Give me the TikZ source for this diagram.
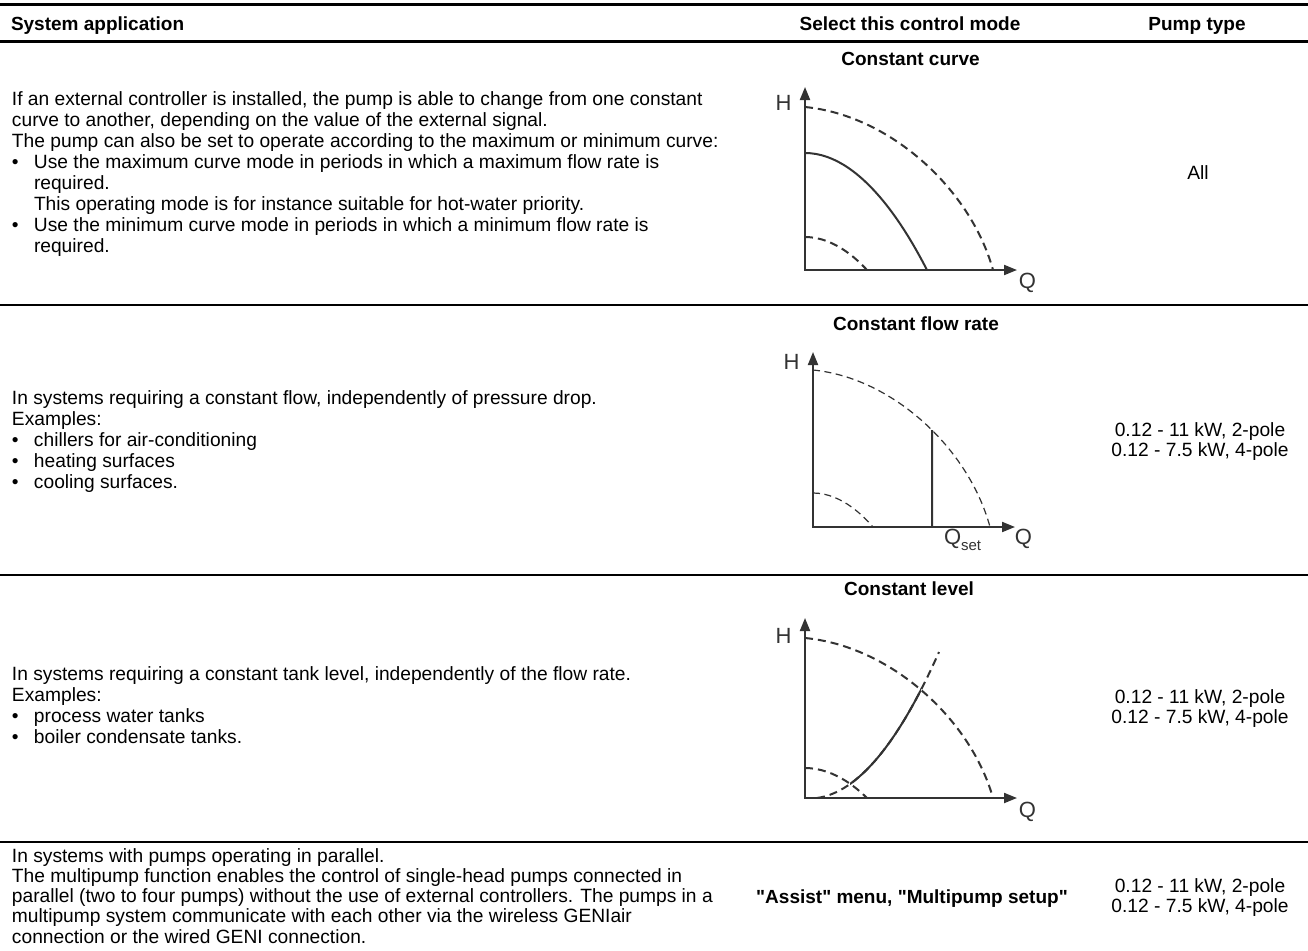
\documentclass[tikz,border=0pt]{standalone}
\usepackage{fontspec}
\setmainfont{Liberation Sans}[Ligatures=TeXOff]
\usetikzlibrary{arrows.meta,intersections,calc}
\definecolor{gline}{HTML}{333333}
\newcommand\rowline[1]{\hbox{#1}}
\newcommand\bulline[1]{\hbox{\makebox[22pt][l]{•}#1}}
\newcommand\indline[1]{\hbox{\hspace*{22pt}#1}}
\newcommand\twolines[2]{\vtop{\halign{\hfil##\hfil\cr #1\cr #2\cr}}}
\begin{document}
\begin{tikzpicture}[x=1pt,y=-1pt,
  every node/.style={inner sep=0pt,outer sep=0pt},
  body/.style={anchor=base west,font=\fontsize{19.2}{21}\selectfont},
  cbody/.style={anchor=base,font=\fontsize{19.2}{20}\selectfont},
  hdr/.style={anchor=base,font=\fontsize{19}{21}\selectfont\bfseries},
  axlbl/.style={anchor=base,text=gline,font=\fontsize{22}{22}\selectfont},
  rule/.style={line width=3pt,black},
  seprule/.style={line width=2.4pt,black},
  axis/.style={line width=2pt,gline,{Triangle[length=13pt,width=10pt]}-{Triangle[length=13pt,width=10pt]}},
  solidcurve/.style={line width=2pt,gline},
  dashthick/.style={line width=2pt,gline,dash pattern=on 8pt off 5pt},
  dashthin/.style={line width=1.2pt,gline,dash pattern=on 7pt off 4.5pt}]
\useasboundingbox[fill=white] (0,0) rectangle (1308,950);

% table rules
\draw[rule] (0,4.5) -- (1308,4.5);
\draw[rule] (0,42) -- (1308,42);
\draw[seprule] (0,305) -- (1308,305);
\draw[seprule] (0,575) -- (1308,575);
\draw[seprule] (0,842) -- (1308,842);

% header
\node[hdr,anchor=base west] (h1) at (11,31) {System application};
\node[hdr] (h2) at (910,31) {Select this control mode};
\node[hdr] (h3) at (1197,31) {Pump type};

% ---------- row 1 ----------
\node[body] (t1) at (12,105) {\vtop{%
\rowline{If an external controller is installed, the pump is able to change from one constant}
\rowline{curve to another, depending on the value of the external signal.}
\rowline{The pump can also be set to operate according to the maximum or minimum curve:}
\bulline{Use the maximum curve mode in periods in which a maximum flow rate is}
\indline{required.}
\indline{This operating mode is for instance suitable for hot-water priority.}
\bulline{Use the minimum curve mode in periods in which a minimum flow rate is}
\indline{required.}}};
\node[hdr] (m1) at (910.5,65) {Constant curve};
\node[cbody] (p1) at (1198,179) {All};

\coordinate (o1) at (805,270);
\coordinate (h1tip) at (805,87);
\coordinate (q1tip) at (1017,270);
\draw[axis] (h1tip) -- (o1) -- (q1tip);
\node[axlbl] (H1) at (783.5,110) {H};
\node[axlbl] (Q1) at (1027.5,288) {Q};
\draw[dashthick] (805,107) .. controls (889.6,115.2) and (970.4,188.5) .. (993,270);
\draw[solidcurve] (805,153) parabola (927,270);
\draw[dashthick] (805,237) parabola (867,270);

% ---------- row 2 ----------
\node[body] (t2) at (12,404) {\vtop{%
\rowline{In systems requiring a constant flow, independently of pressure drop.}
\rowline{Examples:}
\bulline{chillers for air-conditioning}
\bulline{heating surfaces}
\bulline{cooling surfaces.}}};
\node[hdr] (m2) at (916,330) {Constant flow rate};
\node[cbody] (p2) at (1200,436) {\twolines{0.12 - 11 kW, 2-pole}{0.12 - 7.5 kW, 4-pole}};

\coordinate (o2) at (813,527);
\coordinate (h2tip) at (813,352);
\coordinate (q2tip) at (1015,527);
\draw[axis] (h2tip) -- (o2) -- (q2tip);
\node[axlbl] (H2) at (791.5,369) {H};
\node[axlbl] (Q2) at (1023.5,544) {Q};
\node[axlbl,anchor=base west] (Qs) at (944,544) {Q\raisebox{-6pt}{\fontsize{15}{15}\selectfont set}};
\draw[dashthin,name path=c2] (813,370) .. controls (892.65,377.85) and (968.76,448.5) .. (990,527);
\draw[dashthin] (813,493) parabola (873,527);
\coordinate (qs) at (932,527);
\path[name path=v2] (qs) -- (932,340);
\path[name intersections={of=c2 and v2,by=qtop}];
\draw[solidcurve] (qs) -- (qtop);

% ---------- row 3 ----------
\node[body] (t3) at (12,680) {\vtop{%
\rowline{In systems requiring a constant tank level, independently of the flow rate.}
\rowline{Examples:}
\bulline{process water tanks}
\bulline{boiler condensate tanks.}}};
\node[hdr] (m3) at (909,595) {Constant level};
\node[cbody] (p3) at (1200,703) {\twolines{0.12 - 11 kW, 2-pole}{0.12 - 7.5 kW, 4-pole}};

\coordinate (o3) at (805,798);
\coordinate (h3tip) at (805,618);
\coordinate (q3tip) at (1017,798);
\draw[axis] (h3tip) -- (o3) -- (q3tip);
\node[axlbl] (H3) at (783.5,643) {H};
\node[axlbl] (Q3) at (1027.5,817) {Q};
\draw[dashthick,name path=o3c] (805,638) .. controls (889.6,646) and (970.4,718) .. (993,798);
\draw[dashthick,name path=s3c] (805,768) parabola (867,798);
\draw[dashthick,name path=r3c] (817,798) .. controls (857.7,792.4) and (898.3,743.7) .. (939,652);
\path[name intersections={of=r3c and s3c,by=ia}];
\path[name intersections={of=r3c and o3c,by=ib}];
\begin{scope}
\clip ($(ia)+(0,20)$) rectangle ($(ib)+(0,-20)$);
\draw[solidcurve] (817,798) .. controls (857.7,792.4) and (898.3,743.7) .. (939,652);
\end{scope}

% ---------- row 4 ----------
\node[body,font=\fontsize{19.2}{20.3}\selectfont] (t4) at (12,862) {\vtop{%
\rowline{In systems with pumps operating in parallel.}
\rowline{The multipump function enables the control of single-head pumps connected in}
\rowline{parallel (two to four pumps) without the use of external controllers. The pumps in a}
\rowline{multipump system communicate with each other via the wireless GENIair}
\rowline{connection or the wired GENI connection.}}};
\node[hdr] (m4) at (912,903) {"Assist" menu, "Multipump setup"};
\node[cbody] (p4) at (1200,892) {\twolines{0.12 - 11 kW, 2-pole}{0.12 - 7.5 kW, 4-pole}};
\end{tikzpicture}
\end{document}
